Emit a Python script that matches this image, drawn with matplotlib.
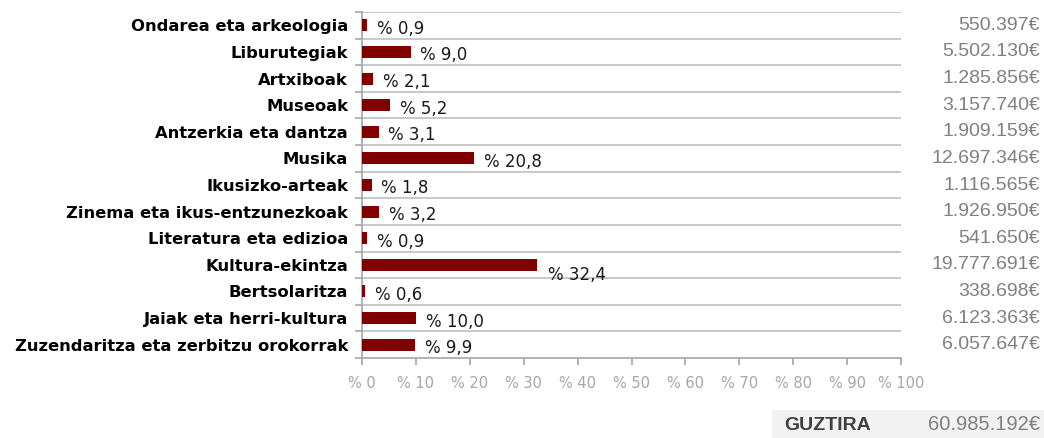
import matplotlib
matplotlib.use("Agg")
import matplotlib.pyplot as plt
from matplotlib.transforms import blended_transform_factory
from matplotlib.patches import Rectangle

categories = ["Ondarea eta arkeologia", "Liburutegiak", "Artxiboak", "Museoak",
              "Antzerkia eta dantza", "Musika", "Ikusizko-arteak",
              "Zinema eta ikus-entzunezkoak", "Literatura eta edizioa",
              "Kultura-ekintza", "Bertsolaritza", "Jaiak eta herri-kultura",
              "Zuzendaritza eta zerbitzu orokorrak"]
percent = [0.9, 9.0, 2.1, 5.2, 3.1, 20.8, 1.8, 3.2, 0.9, 32.4, 0.6, 10.0, 9.9]
euros = ["550.397€", "5.502.130€", "1.285.856€", "3.157.740€", "1.909.159€",
         "12.697.346€", "1.116.565€", "1.926.950€", "541.650€", "19.777.691€",
         "338.698€", "6.123.363€", "6.057.647€"]
xticks = list(range(0, 101, 10))
xtick_labels = ["% " + str(t) for t in xticks]
total_label = "GUZTIRA"
total_value = "60.985.192€"

W, H = 1044, 438
fig = plt.figure(figsize=(W / 100, H / 100), dpi=100)
ax = fig.add_axes([362 / W, 1 - 358 / H, (901 - 362) / W, (358 - 12) / H])

bar_color = "#800000"
grid_color = "#c8c8c8"
n = len(categories)
y = list(range(n))
ax.barh(y, percent, height=0.45, color=bar_color, zorder=3)
ax.set_ylim(n - 0.5, -0.5)
ax.set_xlim(0, 100)

# horizontal gridlines at category boundaries
for b in [i - 0.5 for i in range(n)]:
    ax.axhline(b, color=grid_color, lw=1.4, zorder=1)

for s in ["top", "right"]:
    ax.spines[s].set_visible(False)
for s in ["left", "bottom"]:
    ax.spines[s].set_color("#a6a6a6")
    ax.spines[s].set_linewidth(1.2)

ax.set_yticks(y)
ax.set_yticklabels(categories, fontsize=11.8, fontweight="bold", family="DejaVu Sans",
                   color="black")
ax.tick_params(axis="y", length=0, pad=10)
ax.set_yticks([i - 0.5 for i in range(n + 1)], minor=True)
ax.tick_params(axis="y", which="minor", length=5, color="#a6a6a6", width=1.2)

ax.set_xticks(xticks)
ax.set_xticklabels(xtick_labels, fontsize=10.5, color="#a6a6a6", family="DejaVu Sans")
ax.tick_params(axis="x", length=5, color="#a6a6a6", width=1.2, pad=8)

for i, v in enumerate(percent):
    txt = "% " + f"{v:.1f}".replace(".", ",")
    if v > 30:
        off = (8, -7)
    else:
        off = (7, -2.5)
    ax.annotate(txt, (v, i), xytext=off, textcoords="offset points",
                ha="left", va="center", fontsize=12, color="#1a1a1a",
                family="DejaVu Sans")

tr = blended_transform_factory(fig.transFigure, ax.transData)
for i, e in enumerate(euros):
    ax.text(1040 / W, i, e, transform=tr, ha="right", va="center",
            fontsize=14, color="#808080", family="Liberation Sans", clip_on=False)

fig.patches.append(Rectangle((772 / W, 0), (1044 - 772) / W, (438 - 410) / H,
                             transform=fig.transFigure, facecolor="#f2f2f2",
                             edgecolor="none"))
fig.text(784 / W, 1 - 425 / H, total_label, ha="left", va="center", fontsize=14,
         fontweight="bold", color="#404040", family="Liberation Sans")
fig.text(1040 / W, 1 - 425 / H, total_value, ha="right", va="center", fontsize=14.5,
         color="#808080", family="Liberation Sans")

fig.savefig("out.png", dpi=100)
